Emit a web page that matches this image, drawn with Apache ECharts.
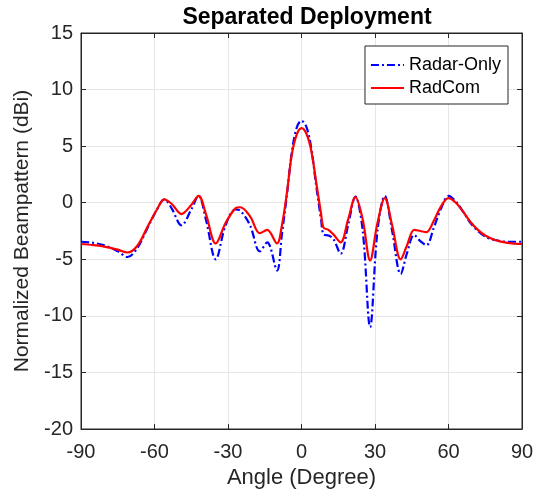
<!DOCTYPE html>
<html>
<head>
<meta charset="utf-8">
<script src="https://cdn.jsdelivr.net/npm/echarts@6/dist/echarts.min.js"></script>
<style>
  html, body { margin: 0; padding: 0; background: #fff; }
  #chart { width: 544px; height: 500px; }
</style>
</head>
<body>
<div id="chart"></div>
<script>
// Beam angles (degrees) at which the pattern is sampled
const angles = [-90, -85, -80, -75, -71, -67, -63, -59, -56, -53, -49, -45, -42, -39, -35, -31, -27, -25, -21, -17, -14, -10, -8, -6, -4, -2, 0, 2, 4, 6, 8, 9, 11, 13, 16, 19, 22, 25, 28, 31, 34, 37, 40.5, 43, 46, 48.5, 51, 54, 57, 60, 63, 66, 69, 72, 75, 79, 84, 90];

// Normalized beampattern (dBi), radar-only design
const radarOnly = [-3.45, -3.55, -3.8, -4.3, -4.8, -4.0, -2.3, -0.6, 0.3, -0.5, -2.0, -0.6, 0.6, -1.5, -5.0, -2.0, -0.6, -0.7, -2.0, -4.3, -3.5, -6.0, -2.8, 0.6, 4.4, 6.6, 7.25, 6.7, 4.8, 1.5, -1.5, -2.8, -2.9, -3.2, -4.5, -2.0, 0.55, -2.5, -11.0, -2.5, 0.6, -2.5, -6.3, -4.5, -2.85, -3.4, -3.75, -2.2, -0.5, 0.6, 0.1, -0.8, -1.8, -2.5, -3.0, -3.3, -3.45, -3.45];

// Normalized beampattern (dBi), joint radar-communication design
const radCom = [-3.65, -3.75, -3.9, -4.15, -4.4, -3.8, -2.2, -0.6, 0.3, -0.1, -1.0, -0.2, 0.6, -1.0, -3.6, -1.8, -0.5, -0.4, -1.2, -2.7, -2.4, -3.6, -2.0, 0.8, 4.2, 6.0, 6.6, 6.1, 4.6, 1.8, -1.0, -2.2, -2.4, -2.8, -3.5, -1.5, 0.5, -1.5, -5.1, -1.8, 0.4, -2.0, -5.0, -3.8, -2.4, -2.5, -2.6, -1.6, -0.3, 0.4, 0.0, -0.8, -1.7, -2.4, -2.9, -3.3, -3.55, -3.65];

const xTicks = [-90, -60, -30, 0, 30, 60, 90];
const yTicks = [-20, -15, -10, -5, 0, 5, 10, 15];

const ink = '#262626';
const font = 'Liberation Sans, Arial, sans-serif';

const pairs = (ys) => angles.map((a, i) => [a, ys[i]]);

const chart = echarts.init(document.getElementById('chart'), null, { renderer: 'canvas' });

const baseX = {
  type: 'value', min: xTicks[0], max: xTicks[xTicks.length - 1], interval: 30
};
const baseY = {
  type: 'value', min: yTicks[0], max: yTicks[yTicks.length - 1], interval: 5
};
const frameLine = { show: true, onZero: false, lineStyle: { color: ink, width: 1 } };
const innerTick = { show: true, inside: true, length: 5, lineStyle: { color: ink } };

chart.setOption({
  animation: false,
  title: {
    text: 'Separated Deployment',
    left: 302, top: 1, textAlign: 'center',
    textStyle: { fontFamily: font, fontSize: 23, fontWeight: 'bold', color: '#000' }
  },
  grid: {
    left: 81, right: 22, top: 33, bottom: 71,
    show: true, borderColor: ink, borderWidth: 1, backgroundColor: '#fff'
  },
  legend: {
    right: 36, top: 46, orient: 'vertical',
    itemWidth: 33, itemHeight: 14, itemGap: 5,
    padding: [10, 7, 7, 5],
    backgroundColor: '#fff', borderColor: ink, borderWidth: 1, borderRadius: 0,
    itemStyle: { opacity: 0 },
    textStyle: { fontFamily: font, fontSize: 18, color: '#000', padding: [0, 0, 0, 0] },
    data: ['Radar-Only', 'RadCom']
  },
  xAxis: [
    Object.assign({}, baseX, {
      position: 'bottom',
      name: 'Angle (Degree)', nameLocation: 'middle', nameGap: 38,
      nameTextStyle: { fontFamily: font, fontSize: 22, color: ink },
      axisLine: frameLine, axisTick: innerTick,
      axisLabel: { fontFamily: font, fontSize: 20, color: ink, margin: 13 },
      splitLine: { show: true, lineStyle: { color: '#e6e6e6', width: 1 } }
    }),
    Object.assign({}, baseX, {
      position: 'top',
      axisLine: frameLine, axisTick: innerTick,
      axisLabel: { show: false },
      splitLine: { show: false }
    })
  ],
  yAxis: [
    Object.assign({}, baseY, {
      position: 'left',
      name: 'Normalized Beampattern (dBi)', nameLocation: 'middle', nameGap: 36,
      nameTextStyle: { fontFamily: font, fontSize: 21, color: ink },
      axisLine: frameLine, axisTick: innerTick,
      axisLabel: { fontFamily: font, fontSize: 20, color: ink, margin: 8 },
      splitLine: { show: true, lineStyle: { color: '#e6e6e6', width: 1 } }
    }),
    Object.assign({}, baseY, {
      position: 'right',
      axisLine: frameLine, axisTick: innerTick,
      axisLabel: { show: false },
      splitLine: { show: false }
    })
  ],
  series: [
    {
      name: 'Radar-Only', type: 'line', xAxisIndex: 0, yAxisIndex: 0,
      data: pairs(radarOnly), smooth: 0.35, symbol: 'none',
      color: '#0000ff',
      lineStyle: { color: '#0000ff', width: 2.2, type: [8, 3, 2, 3] },
      z: 2
    },
    {
      name: 'RadCom', type: 'line', xAxisIndex: 0, yAxisIndex: 0,
      data: pairs(radCom), smooth: 0.35, symbol: 'none',
      color: '#ff0000',
      lineStyle: { color: '#ff0000', width: 2.2 },
      z: 3
    }
  ]
});
</script>
</body>
</html>
